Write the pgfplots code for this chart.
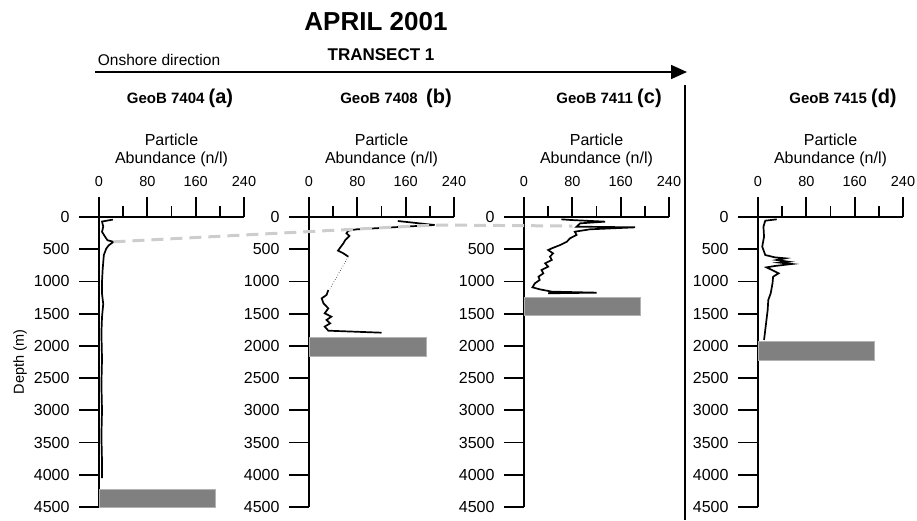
\documentclass[border=0pt]{standalone}
\usepackage{fontspec}
\setmainfont{Liberation Sans}
\usepackage{pgfplots}
\pgfplotsset{compat=1.18}
\usetikzlibrary{arrows.meta}

\definecolor{bedgray}{RGB}{128,128,128}
\definecolor{dashgray}{RGB}{205,205,205}

\pgfplotsset{
  prof/.style={
    scale only axis, width=145pt, height=290pt,
    anchor=north west,
    xmin=0, xmax=240, ymin=0, ymax=4500, y dir=reverse,
    axis x line*=top, axis y line*=left,
    axis line style={-, line width=1.8pt},
    xtick={0,80,160,240}, minor xtick={40,120,200},
    ytick={0,500,...,4500},
    tick align=outside,
    major tick length=20pt, minor tick length=11pt,
    every tick/.style={black, line width=1.8pt},
    /pgf/number format/assume math mode=true,
    /pgf/number format/1000 sep={},
    xticklabel shift=7pt,
    yticklabel shift=6pt,
    xticklabel style={font=\fontsize{14.5}{14.5}\selectfont},
    yticklabel style={font=\fontsize{16}{16}\selectfont},
    xlabel={Particle\\Abundance (n/l)},
    xlabel style={align=center, font=\fontsize{16}{18}\selectfont, yshift=3pt},
    clip=false,
  },
  profline/.style={black, line width=1.7pt, no marks},
  bed/.style={fill=bedgray, draw=gray!60, line width=0.6pt, no marks},
}

\begin{document}
\begin{tikzpicture}
\useasboundingbox (0,0) rectangle (917pt,-520pt);

% header
\node[font=\bfseries\fontsize{26}{26}\selectfont] at (376pt,-22pt) {APRIL 2001};
\node[font=\bfseries\fontsize{17}{17}\selectfont] at (381pt,-55pt) {TRANSECT 1};
\node[font=\fontsize{15.5}{15.5}\selectfont] at (159pt,-60pt) {Onshore direction};
\draw[line width=1.6pt, -{Triangle[length=16pt,width=14pt]}] (95pt,-72pt) -- (687pt,-72pt);
\draw[line width=1.8pt] (685pt,-85pt) -- (685pt,-520pt);

% panel titles
\node[font=\bfseries\fontsize{15}{15}\selectfont] at (180pt,-98pt) {GeoB 7404 {\fontsize{20}{20}\selectfont(a)}};
\node[font=\bfseries\fontsize{15}{15}\selectfont] at (396pt,-98pt) {GeoB 7408\ \ {\fontsize{20}{20}\selectfont(b)}};
\node[font=\bfseries\fontsize{15}{15}\selectfont] at (609pt,-98pt) {GeoB 7411\ {\fontsize{20}{20}\selectfont(c)}};
\node[font=\bfseries\fontsize{15}{15}\selectfont] at (843pt,-98pt) {GeoB 7415 {\fontsize{20}{20}\selectfont(d)}};

% (a) GeoB 7404
\begin{axis}[prof, at={(99pt,-217pt)},
  ylabel={Depth (m)}, ylabel style={font=\fontsize{14.5}{14.5}\selectfont}]
\addplot[bed] coordinates {(0,4220) (193,4220) (193,4500) (0,4500)} -- cycle;
\addplot[profline] coordinates {
 (23,40) (5,70) (7,150) (5,230) (10,305) (14,360) (24,385) (16,440) (12,490)
 (8,590) (6,820) (5,1000) (5,1190) (7,1350) (5,1550) (4,1800) (5,2200)
 (4,2600) (5,3000) (4,3400) (5,3800) (5,4050)};
\coordinate (pa) at (axis cs:24,385);
\end{axis}

% (b) GeoB 7408
\begin{axis}[prof, at={(309pt,-217pt)}]
\addplot[bed] coordinates {(0,1872) (194,1872) (194,2157) (0,2157)} -- cycle;
\addplot[profline] coordinates {
 (147,62) (208,124) (79,191) (65,212) (62,253) (67,295) (60,357) (57,408)
 (52,470) (48,522) (57,564) (65,615)};
\addplot[black, line width=0.6pt, dotted, no marks] coordinates {(65,615) (35,1107)};
\addplot[profline] coordinates {
 (32,1133) (29,1210) (21,1262) (24,1340) (32,1417) (26,1494) (37,1546)
 (29,1598) (35,1650) (26,1700) (32,1764) (120,1795)};
\coordinate (pb) at (axis cs:208,124);
\end{axis}

% (c) GeoB 7411
\begin{axis}[prof, at={(524pt,-217pt)}]
\addplot[bed] coordinates {(0,1246) (193,1246) (193,1526) (0,1526)} -- cycle;
\addplot[profline] coordinates {
 (62,36) (79,47) (134,72) (93,98) (87,150) (184,160) (109,191) (84,228)
 (87,279) (76,331) (71,383) (60,434) (46,486) (40,512) (48,564) (43,615)
 (46,667) (35,719) (40,770) (29,822) (32,874) (24,926) (26,977) (18,1029)
 (14,1091) (26,1122) (46,1158) (120,1174) (40,1184)};
\coordinate (pc) at (axis cs:80,140);
\end{axis}

% (d) GeoB 7415
\begin{axis}[prof, at={(758pt,-217pt)}]
\addplot[bed] coordinates {(0,1934) (192,1934) (192,2219) (0,2219)} -- cycle;
\addplot[profline] coordinates {
 (31,36) (12,57) (9,150) (10,305) (7,460) (12,590) (28,626) (45,641) (31,667)
 (50,693) (36,708) (56,729) (28,760) (14,781) (23,822) (34,874) (25,926)
 (24,1029) (21,1184) (17,1288) (16,1443) (14,1598) (12,1753) (10,1908)};
\end{axis}

\draw[dashgray, line width=3pt, dash pattern=on 12pt off 7pt] (pa) -- (pb) -- (pc);
\end{tikzpicture}
\end{document}
